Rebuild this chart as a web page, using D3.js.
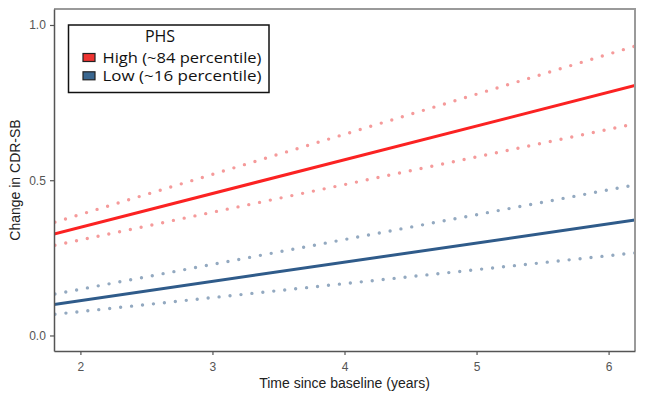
<!DOCTYPE html>
<html><head><meta charset="utf-8">
<script src="https://cdn.jsdelivr.net/npm/d3@7"></script>
<style>body{margin:0;background:#fff}svg{display:block}</style>
</head><body><svg id="c" width="645" height="401"></svg>
<script>
// Data
const xEnds = [1.8, 6.2];
const highFit = [0.327, 0.805];
const highUpper = [0.364, 0.932];
const highLower = [0.290, 0.682];
const lowFit = [0.100, 0.372];
const lowUpper = [0.133, 0.485];
const lowLower = [0.068, 0.266];
const xTicks = [2, 3, 4, 5, 6];
const yTicks = [0.0, 0.5, 1.0];
const legendTitle = "PHS";
const legendLabels = ["High (~84 percentile)", "Low (~16 percentile)"];

const svg = d3.select("#c");
const L = 54, R = 635, T = 9, B = 351;
const x = d3.scaleLinear().domain([1.8, 6.2]).range([L, R]);
const y = d3.scaleLinear().domain([-0.05, 1.0515]).range([B, T]);

const line = d3.line().x(d => x(d[0])).y(d => y(d[1]));
const pts = v => xEnds.map((xx, i) => [xx, v[i]]);

const g = svg.append("g");
g.append("defs").append("clipPath").attr("id", "clip")
  .append("rect").attr("x", L).attr("y", T).attr("width", R - L).attr("height", B - T);
const plot = g.append("g").attr("clip-path", "url(#clip)");

const dotted = [[highUpper, "#f59a9a"], [highLower, "#f59a9a"], [lowUpper, "#93a9c0"], [lowLower, "#93a9c0"]];
dotted.forEach(([v, c]) => {
  plot.append("path").attr("d", line(pts(v))).attr("fill", "none")
    .attr("stroke", c).attr("stroke-width", 3.4).attr("stroke-linecap", "round")
    .attr("stroke-dasharray", "0 11").attr("stroke-dashoffset", -1);
});
plot.append("path").attr("d", line(pts(highFit))).attr("fill", "none").attr("stroke", "#fb2222").attr("stroke-width", 3);
plot.append("path").attr("d", line(pts(lowFit))).attr("fill", "none").attr("stroke", "#2f5b8a").attr("stroke-width", 3);

// border top/right
g.append("path").attr("d", `M${L},${T}H${R}V${B}`).attr("fill", "none").attr("stroke", "#9a9a9a").attr("stroke-width", 2);

// axes
const xa = g.append("g").attr("transform", `translate(0,${B})`)
  .call(d3.axisBottom(x).tickValues(xTicks).tickFormat(d3.format("d")).tickSize(4).tickSizeOuter(0));
const ya = g.append("g").attr("transform", `translate(${L},0)`)
  .call(d3.axisLeft(y).tickValues(yTicks).tickFormat(d3.format(".1f")).tickSize(4).tickSizeOuter(0));
[xa, ya].forEach(a => {
  a.select(".domain").attr("stroke", "#555").attr("stroke-width", 1.5);
  a.selectAll(".tick line").attr("stroke", "#555").attr("stroke-width", 1.2);
  a.selectAll(".tick text").attr("fill", "#555").attr("font-size", 12)
    .attr("font-family", "Liberation Sans, Arial, sans-serif");
});
xa.selectAll(".tick text").attr("dy", "1.1em");
ya.selectAll(".tick text").attr("dx", "-0.1em");

g.append("text").attr("x", (L + R) / 2).attr("y", 388).attr("text-anchor", "middle")
  .attr("font-family", "Liberation Sans, Arial, sans-serif").attr("font-size", 14).attr("fill", "#222")
  .text("Time since baseline (years)");
g.append("text").attr("transform", `translate(20,${(T + B) / 2}) rotate(-90)`).attr("text-anchor", "middle")
  .attr("font-family", "Liberation Sans, Arial, sans-serif").attr("font-size", 14).attr("fill", "#222")
  .text("Change in CDR-SB");

// legend
const lg = g.append("g");
lg.append("rect").attr("x", 68.5).attr("y", 25).attr("width", 200.5).attr("height", 67.5)
  .attr("fill", "#fff").attr("stroke", "#111").attr("stroke-width", 1.5);
lg.append("text").attr("x", 160).attr("y", 42).attr("text-anchor", "middle")
  .attr("font-family", "Open Sans, sans-serif").attr("font-size", 16).attr("fill", "#111").text(legendTitle);
const keyCols = ["#ee3431", "#3a6790"];
legendLabels.forEach((lab, i) => {
  const yy = 53.5 + i * 18.3;
  lg.append("rect").attr("x", 83).attr("y", yy).attr("width", 12).attr("height", 8)
    .attr("fill", keyCols[i]).attr("stroke", "#222").attr("stroke-width", 1.2);
  lg.append("text").attr("x", 102.5).attr("y", yy + 9.2).attr("font-family", "Open Sans, sans-serif")
    .attr("font-size", 15).attr("fill", "#111").attr("textLength", 159).attr("lengthAdjust", "spacingAndGlyphs")
    .text(lab);
});
</script></body></html>
